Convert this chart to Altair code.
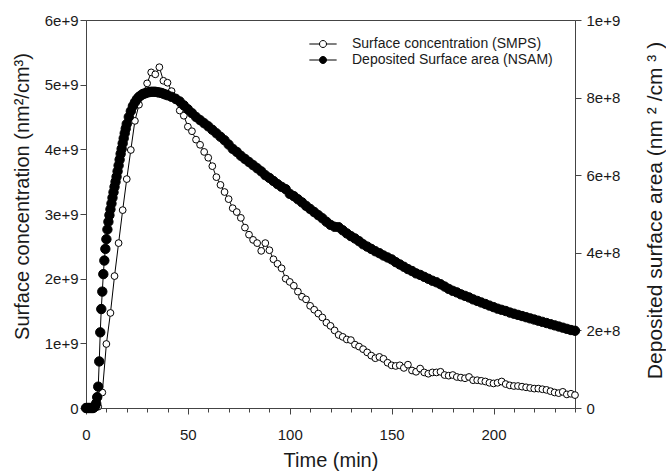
import altair as alt
import pandas as pd

# ---------------- data ----------------
SMPS = "Surface concentration (SMPS)"
NSAM = "Deposited Surface area (NSAM)"

# SMPS surface concentration, time in minutes, value in 1e9 nm^2/cm^3
smps_time = list(range(0, 241, 2))
smps_values = [
    0, 0, 0, 0.02, 0.24, 0.99, 1.47, 2.04, 2.55, 3.06,
    3.54, 3.99, 4.44, 4.69, 4.88, 5.02, 5.19, 5.16, 5.27, 5.06,
    5.03, 4.90, 4.76, 4.60, 4.52, 4.35, 4.28, 4.15, 4.07, 3.96,
    3.87, 3.74, 3.57, 3.45, 3.34, 3.23, 3.09, 3.03, 2.94, 2.79,
    2.68, 2.60, 2.55, 2.43, 2.55, 2.44, 2.30, 2.23, 2.16, 2.00,
    1.95, 1.89, 1.80, 1.72, 1.68, 1.58, 1.52, 1.46, 1.40, 1.32,
    1.27, 1.20, 1.13, 1.10, 1.06, 1.05, 0.98, 0.95, 0.91, 0.86,
    0.81, 0.77, 0.79, 0.76, 0.70, 0.66, 0.65, 0.66, 0.62, 0.67,
    0.58, 0.56, 0.61, 0.55, 0.53, 0.55, 0.55, 0.56, 0.51, 0.50,
    0.51, 0.48, 0.47, 0.46, 0.48, 0.43, 0.43, 0.42, 0.41, 0.39,
    0.38, 0.39, 0.41, 0.37, 0.35, 0.34, 0.34, 0.33, 0.32, 0.31,
    0.30, 0.30, 0.29, 0.28, 0.26, 0.24, 0.23, 0.25, 0.21, 0.22,
    0.20,
]

# NSAM deposited surface area, time in minutes, value in 1e8 nm^2/cm^3
nsam_time = [
    0, 0.5, 1, 1.5, 2, 2.5, 3, 3.5, 4, 4.5, 5, 5.5, 6, 6.5, 7, 7.5, 8, 8.5, 9, 9.5,
    10, 10.5, 11, 11.5, 12, 12.5, 13, 13.5, 14, 14.5, 15, 15.5, 16, 16.5, 17, 17.5,
    18, 18.5, 19, 19.5, 20, 21, 22, 23, 24, 25, 26, 27, 28, 29, 30, 31, 32, 33, 34,
    35, 36, 37, 38, 39, 40,
    42, 44, 46, 48, 50, 52, 54, 56, 58, 60, 62, 64, 66, 68, 70, 72, 74, 76, 78, 80,
    82, 84, 86, 88, 90, 92, 94, 96, 98, 100, 102, 104, 106, 108, 110, 112, 114, 116,
    118, 120, 122, 124, 126, 128, 130, 132, 134, 136, 138, 140, 142, 144, 146, 148,
    150, 152, 154, 156, 158, 160, 162, 164, 166, 168, 170, 172, 174, 176, 178, 180,
    182, 184, 186, 188, 190, 192, 194, 196, 198, 200, 202, 204, 206, 208, 210, 212,
    214, 216, 218, 220, 222, 224, 226, 228, 230, 232, 234, 236, 238, 240,
]
nsam_values = [
    0, 0, 0, 0, 0, 0, 0, 0, 0.02, 0.05, 0.12, 0.28, 0.55, 1.20, 1.95, 2.55, 3.00, 3.45, 3.80, 4.10,
    4.35, 4.60, 4.80, 4.97, 5.12, 5.27, 5.42, 5.56, 5.70, 5.83, 5.96, 6.10, 6.25, 6.40, 6.55, 6.68,
    6.82, 6.95, 7.08, 7.20, 7.32, 7.50, 7.65, 7.78, 7.88, 7.96, 8.02, 8.06, 8.09, 8.11, 8.13, 8.14, 8.15, 8.15, 8.15,
    8.14, 8.13, 8.12, 8.10, 8.08, 8.06,
    8.02, 7.97, 7.90, 7.80, 7.70, 7.60, 7.50, 7.42, 7.34, 7.26, 7.17, 7.08, 6.99, 6.90, 6.79, 6.68, 6.60, 6.50, 6.42, 6.34,
    6.26, 6.18, 6.10, 6.00, 5.93, 5.85, 5.77, 5.70, 5.64, 5.52, 5.46, 5.38, 5.30, 5.21, 5.13, 5.05, 4.97, 4.89,
    4.80, 4.72, 4.67, 4.66, 4.58, 4.50, 4.43, 4.37, 4.30, 4.22, 4.16, 4.10, 4.04, 3.99, 3.93, 3.88,
    3.83, 3.76, 3.70, 3.64, 3.58, 3.53, 3.47, 3.43, 3.38, 3.33, 3.28, 3.24, 3.19, 3.13, 3.07, 3.02,
    2.98, 2.93, 2.89, 2.85, 2.80, 2.76, 2.72, 2.68, 2.64, 2.60, 2.56, 2.53, 2.50, 2.46, 2.43, 2.40,
    2.37, 2.34, 2.31, 2.28, 2.25, 2.22, 2.19, 2.16, 2.13, 2.10, 2.07, 2.04, 2.01, 1.99,
]

x_ticks = list(range(0, 241, 10))
left_ticks = [0, 1e9, 2e9, 3e9, 4e9, 5e9, 6e9]
right_ticks = [0, 2e8, 4e8, 6e8, 8e8, 1e9]

smps_df = pd.DataFrame({"t": smps_time, "v": [v * 1e9 for v in smps_values], "series": SMPS})
nsam_df = pd.DataFrame({"t": nsam_time, "v": [v * 1e8 for v in nsam_values], "series": NSAM})

FONT = "Liberation Sans"
AXIS_COLOR = "#444444"
LABEL_COLOR = "#1a1a1a"

x_axis = alt.Axis(
    values=x_ticks,
    labelExpr="datum.value % 50 === 0 ? datum.label : ''",
    tickSize={"condition": {"test": "datum.value % 50 === 0", "value": 6}, "value": 4},
    labelPadding=13,
    labelOverlap=False,
    labelFlush=False,
    title="Time (min)",
    titlePadding=8,
)
x_enc = alt.X("t:Q", scale=alt.Scale(domain=[0, 240], nice=False, zero=False), axis=x_axis)

y_left = alt.Y(
    "v:Q",
    scale=alt.Scale(domain=[0, 6e9], nice=False),
    axis=alt.Axis(
        orient="left",
        values=left_ticks,
        labelExpr="datum.value === 0 ? '0' : format(datum.value, '.0e')",
        labelFlush=False,
        labelOverlap=False,
        tickSize=6,
        labelPadding=2,
        title="Surface concentration (nm²/cm³)",
        titleX=-64,
        titleY=176,
        titleAngle=270,
        titleAlign="center",
        titleBaseline="middle",
    ),
)
y_right = alt.Y(
    "v:Q",
    scale=alt.Scale(domain=[0, 1e9], nice=False),
    axis=alt.Axis(
        orient="right",
        values=right_ticks,
        labelExpr="datum.value === 0 ? '0' : format(datum.value, '.0e')",
        labelFlush=False,
        labelOverlap=False,
        tickSize=6,
        labelPadding=5,
        title="Deposited surface area (nm ² /cm ³ )",
        titleFontSize=21,
        titleX=80,
        titleY=190,
        titleAngle=270,
        titleAlign="center",
        titleBaseline="middle",
    ),
)

LEGEND_PATH = "M-3.9,0H-1M1,0H3.9M1,0A1,1,0,1,1,-1,0A1,1,0,1,1,1,0Z"
legend = alt.Legend(
    title=None,
    orient="none",
    legendX=230,
    legendY=17,
    symbolType=LEGEND_PATH,
    symbolSize=49,
    symbolStrokeColor="black",
    symbolStrokeWidth=1,
    symbolOpacity=1,
    labelFont=FONT,
    labelFontSize=14,
    labelColor=LABEL_COLOR,
    labelOffset=22,
    labelLimit=400,
    padding=0,
    rowPadding=2,
)
fill_enc = alt.Fill(
    "series:N",
    scale=alt.Scale(domain=[SMPS, NSAM], range=["white", "black"]),
    legend=legend,
)

smps_line = alt.Chart(smps_df).mark_line(color="black", strokeWidth=1).encode(x=x_enc, y=y_left)
smps_pts = alt.Chart(smps_df).mark_point(
    shape="circle", size=46, stroke="black", strokeWidth=1, opacity=1, filled=True
).encode(x=x_enc, y=y_left, fill=fill_enc)

nsam_line = alt.Chart(nsam_df).mark_line(color="black", strokeWidth=1).encode(x=x_enc, y=y_right)
nsam_pts = alt.Chart(nsam_df).mark_point(
    shape="circle", size=88, stroke="black", strokeWidth=1, opacity=1, filled=True
).encode(x=x_enc, y=y_right, fill=fill_enc)

chart = (
    alt.layer(alt.layer(smps_line, smps_pts), alt.layer(nsam_line, nsam_pts))
    .resolve_scale(y="independent")
    .properties(
        width=489,
        height=388,
        autosize=alt.AutoSizeParams(type="none"),
        padding={"left": 86, "top": 20, "right": 91, "bottom": 66},
        background="white",
    )
    .configure_view(stroke=AXIS_COLOR, strokeWidth=1)
    .configure_axis(
        grid=False,
        domainColor=AXIS_COLOR,
        tickColor=AXIS_COLOR,
        labelFont=FONT,
        labelFontSize=15,
        labelColor=LABEL_COLOR,
        titleFont=FONT,
        titleFontSize=20,
        titleFontWeight="normal",
        titleColor=LABEL_COLOR,
    )
)

chart.save("out.html", embed_options={"renderer": "svg", "actions": False})
